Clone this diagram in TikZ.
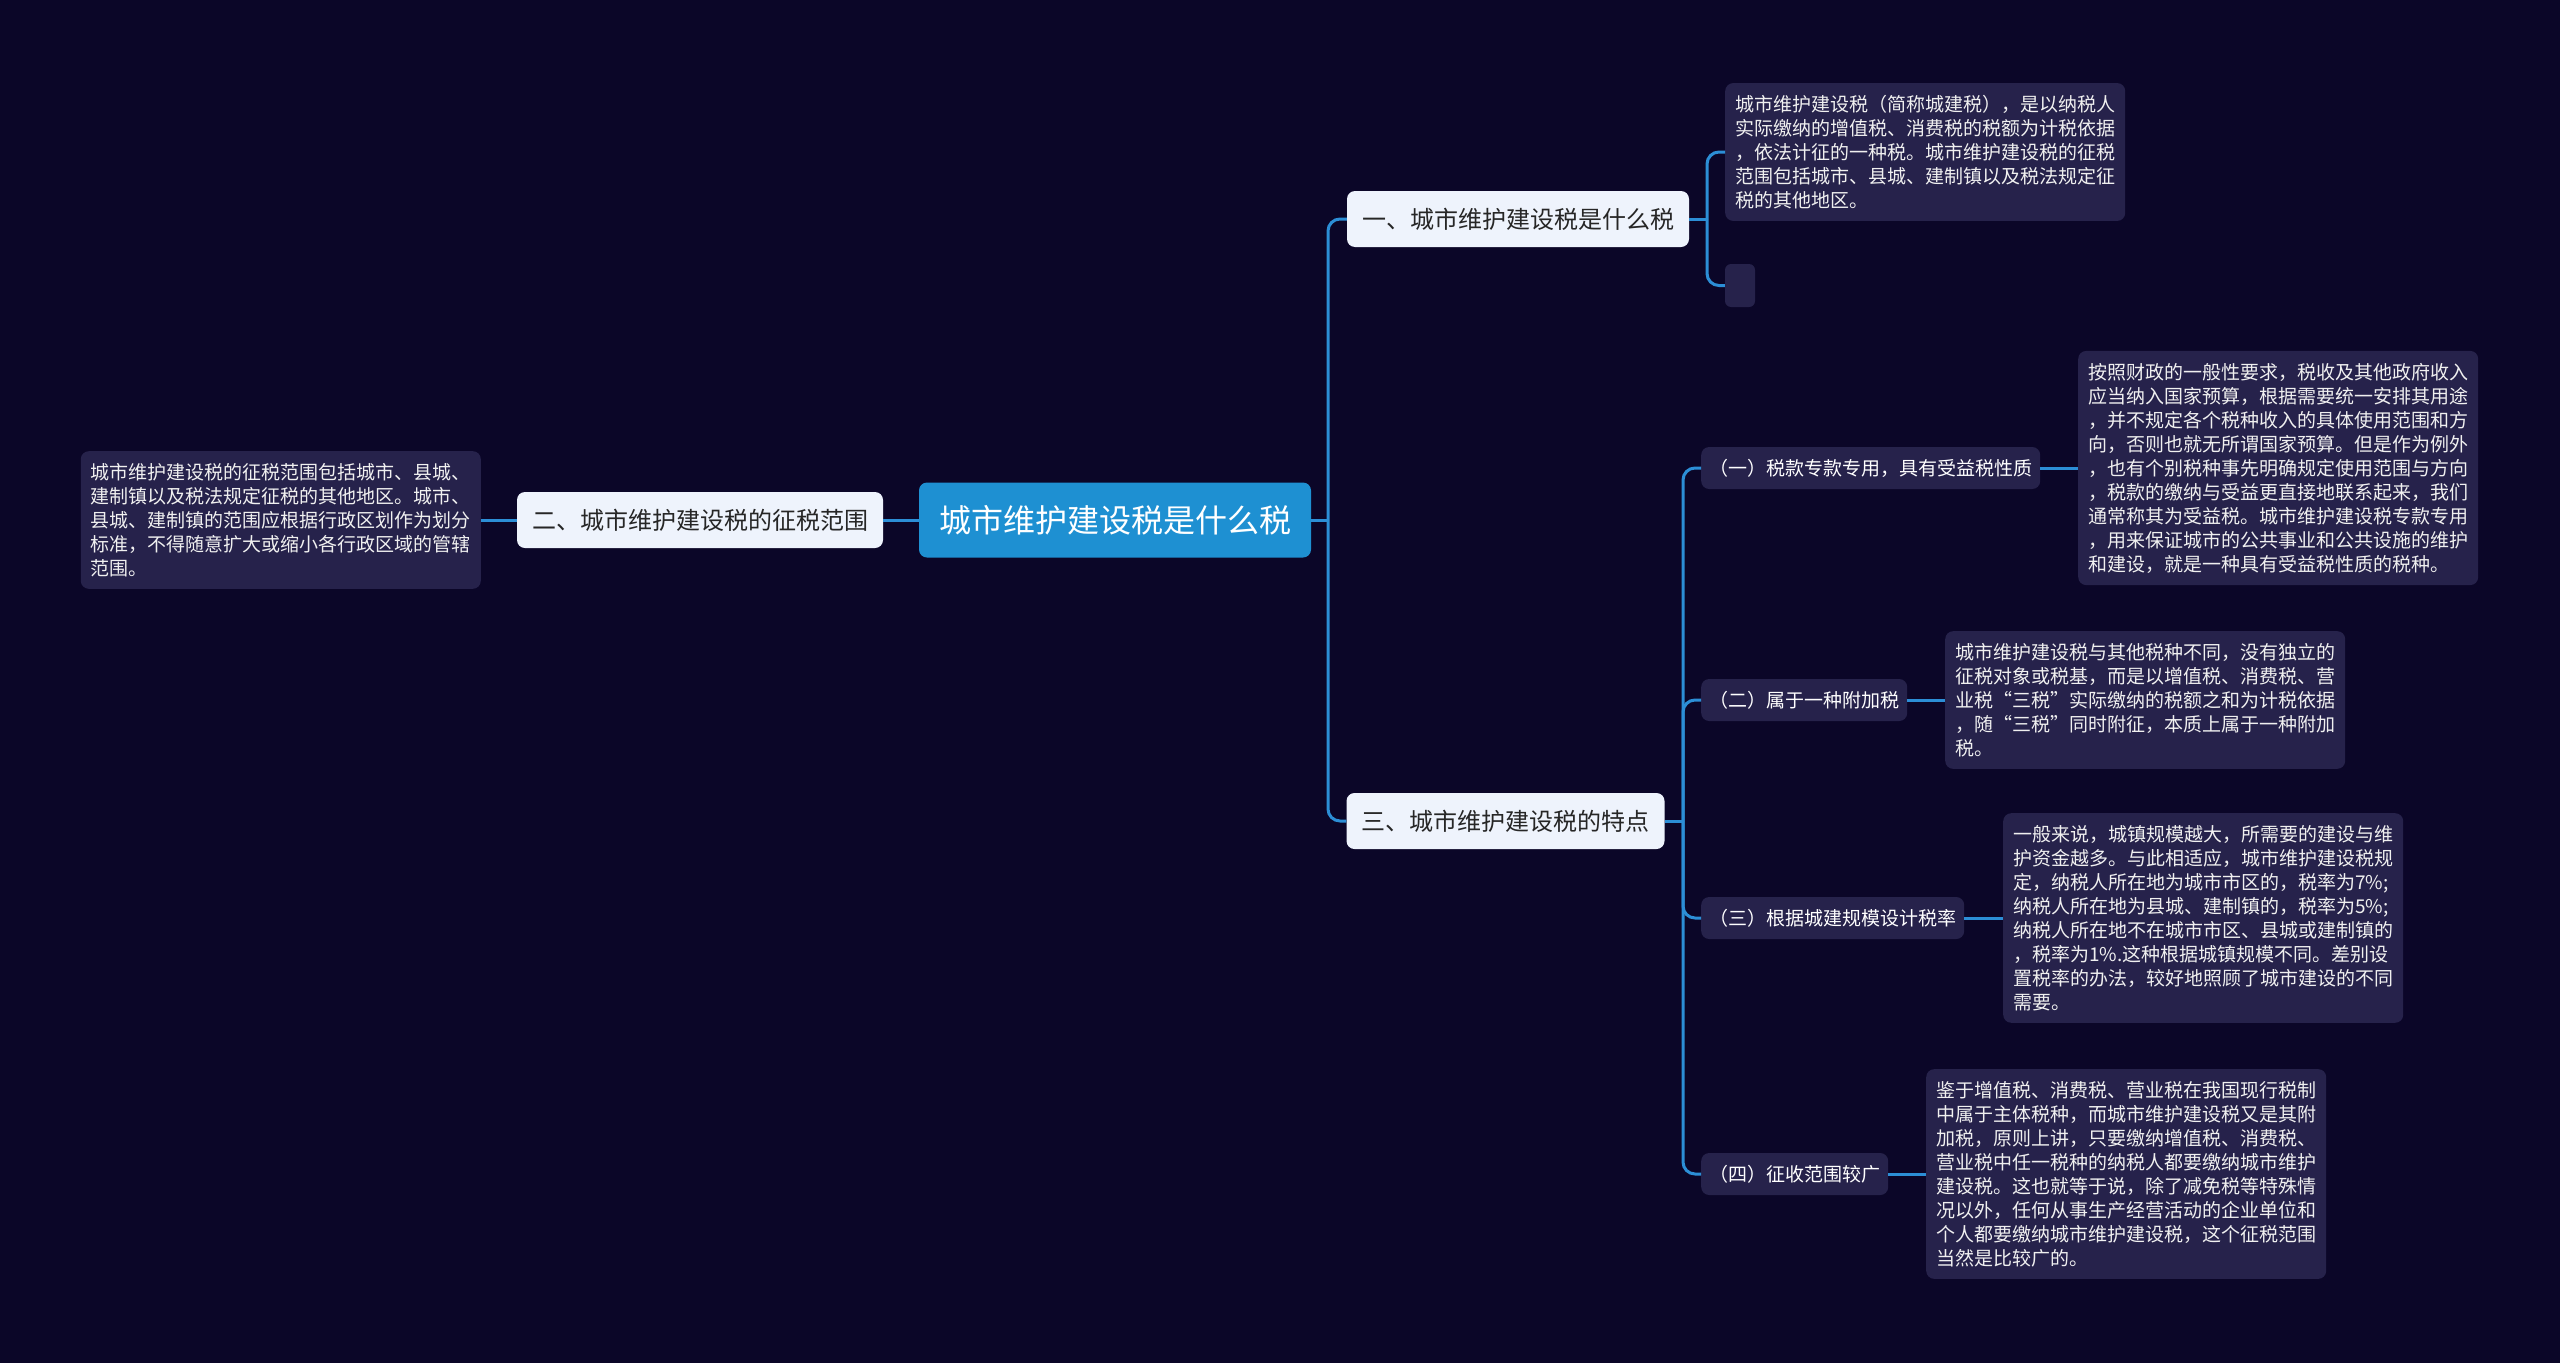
\documentclass[tikz,border=0pt]{standalone}
\usepackage{fontspec}
\setmainfont{Noto Sans CJK SC}
\definecolor{bgnavy}{HTML}{0B0628}
\definecolor{rootblue}{HTML}{1E90D2}
\definecolor{linkblue}{HTML}{2C8ED6}
\definecolor{topwhite}{HTML}{EEF3FC}
\definecolor{leafpurple}{HTML}{26224B}
\begin{document}
\begin{tikzpicture}[x=1pt, y=-1pt,
        root/.style={fill=rootblue, text=white, rounded corners=8pt, inner xsep=20pt, minimum height=75pt, font=\fontsize{32}{38}\selectfont},
        topic/.style={fill=topwhite, text=black!85, rounded corners=8pt, inner xsep=15pt, minimum height=56pt, font=\fontsize{24}{29}\selectfont},
        sub/.style={fill=leafpurple, text=white, rounded corners=8pt, inner xsep=8pt, minimum height=42pt, font=\fontsize{19}{24}\selectfont},
        leaf/.style={fill=leafpurple, text=white!94!black, rounded corners=8pt, align=left, minimum width=400pt, inner ysep=12pt, font=\fontsize{19}{24}\selectfont},
        link/.style={draw=linkblue, line width=3pt, rounded corners=12pt}]

        % tlo
        \fill[bgnavy] (0,0) rectangle (2560,1363);
        \useasboundingbox (0,0) rectangle (2560,1363);

        % srodek i tematy
        \node[root] (root) at (1115,520) {城市维护建设税是什么税};
        \node[topic] (one) at (1518,219) {一、城市维护建设税是什么税};
        \node[topic] (two) at (700,520) {二、城市维护建设税的征税范围};
        \node[topic] (three) at (1505.5,821) {三、城市维护建设税的特点};

        % liscie tematu 1 i 2
        \node[leaf, anchor=west] (defn) at (1725,152) {城市维护建设税（简称城建税），是以纳税人\\实际缴纳的增值税、消费税的税额为计税依据\\，依法计征的一种税。城市维护建设税的征税\\范围包括城市、县城、建制镇以及税法规定征\\税的其他地区。};
        \node[fill=leafpurple, rounded corners=6pt, minimum width=30pt, minimum height=43pt, inner sep=0pt] (blank) at (1740,285.5) {};
        \node[leaf, anchor=east] (scope) at (481,520) {城市维护建设税的征税范围包括城市、县城、\\建制镇以及税法规定征税的其他地区。城市、\\县城、建制镇的范围应根据行政区划作为划分\\标准，不得随意扩大或缩小各行政区域的管辖\\范围。};

        % cechy
        \node[sub, anchor=west] (featA) at (1701,468) {（一）税款专款专用，具有受益税性质};
        \node[sub, anchor=west] (featB) at (1701,700) {（二）属于一种附加税};
        \node[sub, anchor=west] (featC) at (1701,918) {（三）根据城建规模设计税率};
        \node[sub, anchor=west] (featD) at (1701,1174) {（四）征收范围较广};

        \node[leaf, anchor=west] (textA) at (2078,468) {按照财政的一般性要求，税收及其他政府收入\\应当纳入国家预算，根据需要统一安排其用途\\，并不规定各个税种收入的具体使用范围和方\\向，否则也就无所谓国家预算。但是作为例外\\，也有个别税种事先明确规定使用范围与方向\\，税款的缴纳与受益更直接地联系起来，我们\\通常称其为受益税。城市维护建设税专款专用\\，用来保证城市的公共事业和公共设施的维护\\和建设，就是一种具有受益税性质的税种。};
        \node[leaf, anchor=west] (textB) at (1945,700) {城市维护建设税与其他税种不同，没有独立的\\征税对象或税基，而是以增值税、消费税、营\\业税“三税”实际缴纳的税额之和为计税依据\\，随“三税”同时附征，本质上属于一种附加\\税。};
        \node[leaf, anchor=west] (textC) at (2003,918) {一般来说，城镇规模越大，所需要的建设与维\\护资金越多。与此相适应，城市维护建设税规\\定，纳税人所在地为城市市区的，税率为7\%;\\纳税人所在地为县城、建制镇的，税率为5\%;\\纳税人所在地不在城市市区、县城或建制镇的\\，税率为1\%.这种根据城镇规模不同。差别设\\置税率的办法，较好地照顾了城市建设的不同\\需要。};
        \node[leaf, anchor=west] (textD) at (1926,1174) {鉴于增值税、消费税、营业税在我国现行税制\\中属于主体税种，而城市维护建设税又是其附\\加税，原则上讲，只要缴纳增值税、消费税、\\营业税中任一税种的纳税人都要缴纳城市维护\\建设税。这也就等于说，除了减免税等特殊情\\况以外，任何从事生产经营活动的企业单位和\\个人都要缴纳城市维护建设税，这个征税范围\\当然是比较广的。};

        % polaczenia
        \coordinate (bus1) at (1328,520);
        \coordinate (bus2) at (1707,219);
        \coordinate (bus3) at (1683,821);
        \draw[link] (root.east) -- (bus1);
        \draw[link] (bus1) |- (one.west);
        \draw[link] (bus1) |- (three.west);
        \draw[link] (root.west) -- (two.east);
        \draw[link] (two.west) -- (scope.east);

        \draw[link] (one.east) -- (bus2);
        \draw[link] (bus2) |- (defn.west);
        \draw[link] (bus2) |- (blank.west);

        \draw[link] (three.east) -- (bus3);
        \foreach \f in {featA,featB,featC,featD}
            \draw[link] (bus3) |- (\f.west);
        \draw[link] (featA.east) -- (textA.west);
        \draw[link] (featB.east) -- (textB.west);
        \draw[link] (featC.east) -- (textC.west);
        \draw[link] (featD.east) -- (textD.west);

    \end{tikzpicture}
\end{document}
